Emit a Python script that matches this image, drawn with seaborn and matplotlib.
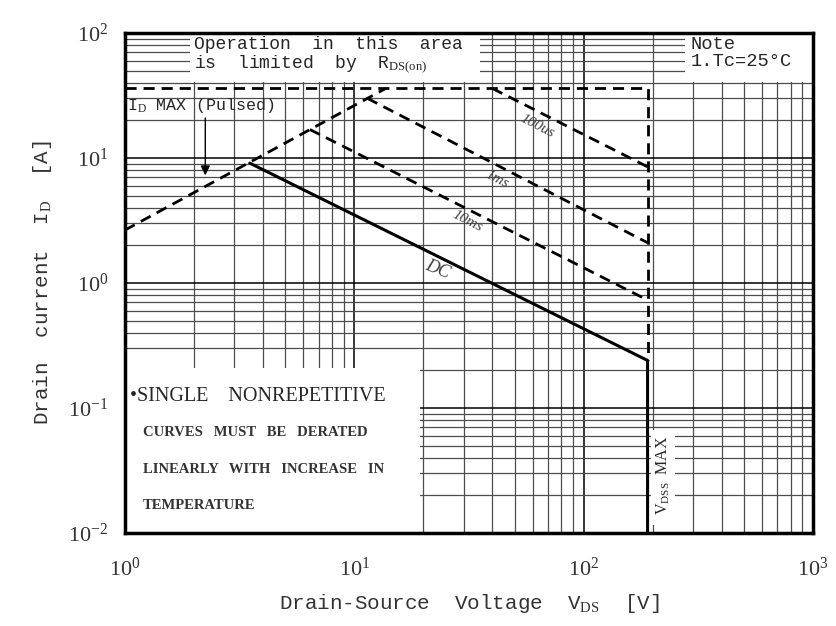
import numpy as np
import pandas as pd
import matplotlib
matplotlib.use("Agg")
import matplotlib.pyplot as plt
from matplotlib.patches import Rectangle
import seaborn as sns

# SOA curve data (V in volts, I in amps)
vdss_max = 190
id_max = 36
rds_v = [1.0, 13.7]
rds_i = [2.65, 36.0]
us100_v = [40.0, vdss_max]
us100_i = [36.0, 8.5]
ms1_v = [11.4, vdss_max]
ms1_i = [30.0, 2.1]
ms10_v = [6.4, vdss_max]
ms10_i = [16.9, 0.73]
dc_v = [3.5, vdss_max, vdss_max]
dc_i = [9.1, 0.24, 0.01]

sns.set_style("white")
plt.rcParams["font.family"] = ["Liberation Mono", "DejaVu Sans"]
plt.rcParams["mathtext.fontset"] = "custom"
plt.rcParams["mathtext.rm"] = "Liberation Serif"
plt.rcParams["mathtext.it"] = "Liberation Serif:italic"

fig = plt.figure(figsize=(8.37, 6.26), dpi=100)
ax = fig.add_axes([0.1493, 0.1486, 0.822, 0.7987])
ax.set_xscale("log")
ax.set_yscale("log")
ax.set_xlim(1, 1000)
ax.set_ylim(0.01, 100)
ax.set_axisbelow(True)
ax.grid(which="major", color="black", lw=1.1)
ax.grid(which="minor", color="0.3", lw=0.9)
for s in ax.spines.values():
    s.set_linewidth(2.5)
    s.set_color("black")
ax.tick_params(which="both", length=0)
ax.tick_params(axis="x", pad=18, labelsize=16)
ax.tick_params(axis="y", pad=12, labelsize=16)
for lab in ax.get_xticklabels() + ax.get_yticklabels():
    lab.set_family("Liberation Serif")
    lab.set_color("0.2")

# white boxes that blank out the grid behind the notes
for (x0, y0, w, h) in [(0.094, 0.902, 0.422, 0.098), (0.814, 0.902, 0.186, 0.098),
                       (0.0, 0.0, 0.429, 0.33), (0.765, 0.015, 0.034, 0.19)]:
    ax.add_patch(Rectangle((x0, y0), w, h, transform=ax.transAxes,
                           facecolor="white", edgecolor="none", zorder=1))

kw = dict(ax=ax, color="black", sort=False, estimator=None, legend=False, zorder=3)
dash = (0, (4, 2.5))
sns.lineplot(x=rds_v, y=rds_i, lw=2, linestyle=dash, **kw)
sns.lineplot(x=[1, vdss_max, vdss_max], y=[id_max, id_max, dc_i[1]], lw=2, linestyle=dash, **kw)
sns.lineplot(x=us100_v, y=us100_i, lw=2, linestyle=dash, **kw)
sns.lineplot(x=ms1_v, y=ms1_i, lw=2, linestyle=dash, **kw)
sns.lineplot(x=ms10_v, y=ms10_i, lw=2, linestyle=dash, **kw)
sns.lineplot(x=dc_v, y=dc_i, lw=2.2, **kw)

# curve labels
lbl = dict(rotation=-27, fontsize=11, style="italic", family="Liberation Serif",
           ha="center", va="center", color="0.25", zorder=4)
ax.text(63, 18, "100us", **lbl)
ax.text(42, 6.7, "1ms", **lbl)
ax.text(31, 3.1, "10ms", **lbl)
ax.text(23, 1.27, "DC", **dict(lbl, fontsize=13, rotation=-22))

ax.text(0.1, 0.993, "Operation  in  this  area\nis  limited  by  R$_{\\rm DS(on)}$",
        transform=ax.transAxes, fontsize=13, va="top", ha="left", linespacing=1.0,
        color="0.15", zorder=4)
ax.text(0.822, 0.993, "Note\n1.Tc=25°C", transform=ax.transAxes, fontsize=13.5,
        va="top", ha="left", linespacing=1.0, color="0.15", zorder=4)
ax.text(0.003, 0.855, "I$_{\\rm D}$ MAX (Pulsed)", transform=ax.transAxes, fontsize=12,
        va="center", ha="left", color="0.15", zorder=4)
ax.annotate("", xy=(2.24, 6.9), xytext=(2.24, 22),
            arrowprops=dict(arrowstyle="-|>", color="black", lw=1, mutation_scale=14), zorder=4)

ax.text(0.008, 0.273, "•SINGLE    NONREPETITIVE", transform=ax.transAxes, fontsize=14.5,
        family="Liberation Serif", color="0.15", va="center", ha="left", zorder=4)
for yy, t in [(0.2, "CURVES   MUST   BE   DERATED"), (0.126, "LINEARLY   WITH   INCREASE   IN"),
              (0.054, "TEMPERATURE")]:
    ax.text(0.026, yy, t, transform=ax.transAxes, fontsize=10.5, family="Liberation Serif",
            weight="bold", color="0.2", va="center", ha="left", zorder=4)
ax.text(0.782, 0.115, "V$_{\\rm DSS}$  MAX", transform=ax.transAxes, rotation=90, fontsize=11.5,
        family="Liberation Serif", color="0.15", va="center", ha="center", zorder=4)

ax.set_xlabel("Drain-Source  Voltage  V$_{\\rm DS}$  [V]", fontsize=15, labelpad=8, color="0.2")
ax.set_ylabel("Drain  current  I$_{\\rm D}$  [A]", fontsize=15, labelpad=10, color="0.2")

fig.savefig("out.png", dpi=100)
